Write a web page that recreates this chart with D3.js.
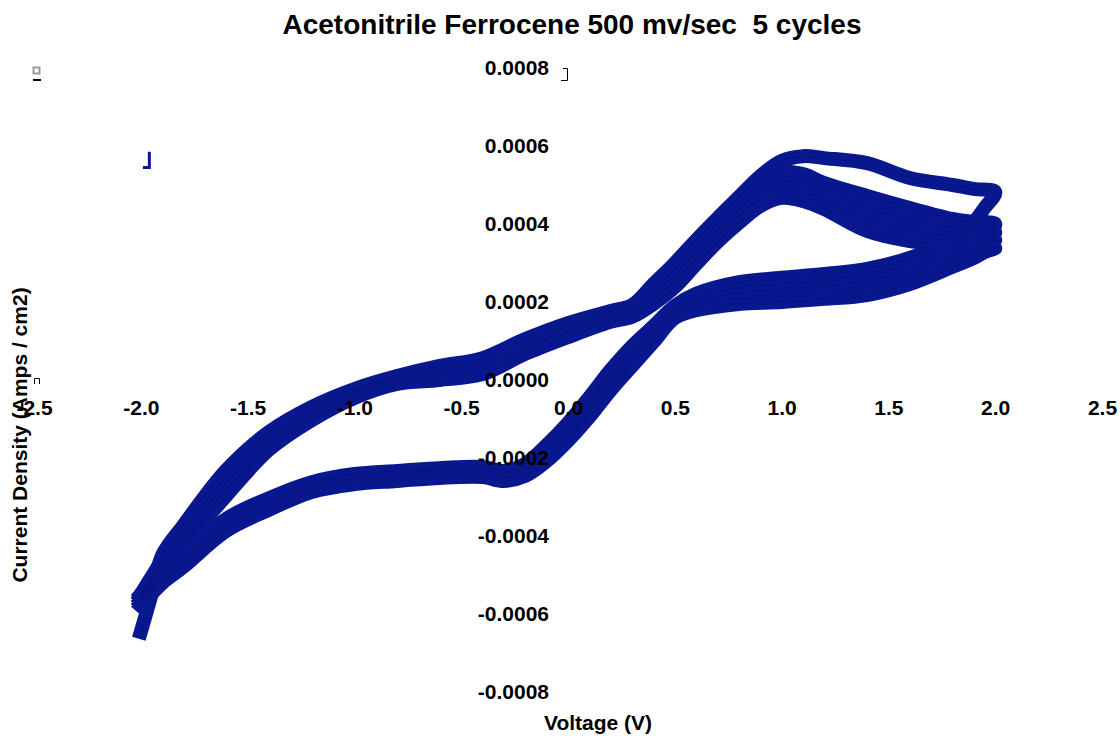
<!DOCTYPE html>
<html>
<head>
    <meta http-equiv="Content-Type" content="text/html;charset=utf8" />
    <title>Acetonitrile Ferrocene CV</title>
    <script src="https://d3js.org/d3.v7.min.js"></script>
    <style>
        body { margin: 0; background: #fff; font-family: "Liberation Sans", Arial, sans-serif; }
        text { font-weight: bold; fill: #000; }
    </style>
</head>
<body>
<div id="chart"></div>
<script>
    // scan voltage (V): forward -2 -> 2, then reverse 2 -> -2
    var voltage = [
        -2.0, -1.95, -1.9, -1.8, -1.6, -1.4, -1.2, -1.0, -0.8, -0.6, -0.4, -0.2, 0.0, 0.2, 0.3, 0.4, 0.5, 0.6, 0.7, 0.8, 0.9, 1.0, 1.1, 1.2, 1.4, 1.6, 1.8, 1.9, 2.0,
        1.95, 1.9, 1.8, 1.6, 1.4, 1.2, 1.0, 0.8, 0.6, 0.5, 0.4, 0.3, 0.2, 0.1, 0.0, -0.1, -0.2, -0.3, -0.4, -0.6, -0.8, -1.0, -1.2, -1.4, -1.6, -1.8, -1.9, -2.0
    ];

    // current density per cycle, in units of 1e-4 A/cm2
    var cycle1 = [
        -6.46, -5.51, -4.49, -3.72, -2.31, -1.33, -0.69, -0.23, 0.10, 0.36, 0.56, 1.05, 1.46, 1.77, 1.92, 2.46, 3.00, 3.59, 4.15, 4.69, 5.23, 5.62, 5.74, 5.69, 5.56, 5.18, 5.00, 4.90, 4.82,
        4.41, 4.05, 3.59, 3.13, 2.85, 2.72, 2.62, 2.51, 2.21, 1.90, 1.38, 0.87, 0.26, -0.44, -1.10, -1.67, -2.15, -2.33, -2.23, -2.26, -2.33, -2.41, -2.62, -3.03, -3.56, -4.49, -4.90, -5.49
    ];
    var cycle2 = [
        -5.49, -5.05, -4.62, -3.87, -2.49, -1.46, -0.77, -0.28, 0.05, 0.26, 0.46, 0.95, 1.38, 1.69, 1.85, 2.33, 2.85, 3.44, 4.00, 4.54, 5.03, 5.33, 5.28, 5.05, 4.72, 4.41, 4.13, 4.05, 4.00,
        3.69, 3.46, 3.21, 2.97, 2.69, 2.56, 2.46, 2.38, 2.10, 1.82, 1.28, 0.74, 0.13, -0.56, -1.23, -1.77, -2.23, -2.38, -2.31, -2.31, -2.38, -2.46, -2.67, -3.10, -3.64, -4.56, -4.97, -5.56
    ];
    var cycle3 = [
        -5.56, -5.15, -4.74, -4.00, -2.64, -1.56, -0.85, -0.33, 0.00, 0.18, 0.36, 0.85, 1.28, 1.62, 1.77, 2.21, 2.69, 3.28, 3.85, 4.36, 4.85, 5.10, 5.05, 4.85, 4.41, 4.13, 3.90, 3.82, 3.79,
        3.56, 3.36, 3.10, 2.82, 2.54, 2.41, 2.31, 2.23, 2.00, 1.74, 1.18, 0.62, 0.00, -0.69, -1.33, -1.87, -2.31, -2.46, -2.36, -2.38, -2.46, -2.54, -2.74, -3.18, -3.72, -4.64, -5.05, -5.64
    ];
    var cycle4 = [
        -5.64, -5.26, -4.87, -4.13, -2.82, -1.69, -0.95, -0.41, -0.05, 0.08, 0.26, 0.77, 1.21, 1.56, 1.69, 2.08, 2.54, 3.13, 3.69, 4.21, 4.64, 4.87, 4.82, 4.62, 4.13, 3.85, 3.67, 3.59, 3.59,
        3.44, 3.26, 3.00, 2.64, 2.36, 2.26, 2.15, 2.10, 1.90, 1.67, 1.08, 0.49, -0.13, -0.82, -1.46, -1.97, -2.38, -2.51, -2.44, -2.44, -2.51, -2.59, -2.79, -3.26, -3.79, -4.72, -5.13, -5.72
    ];
    var cycle5 = [
        -5.72, -5.36, -5.00, -4.26, -2.97, -1.79, -1.03, -0.46, -0.10, 0.00, 0.15, 0.67, 1.10, 1.49, 1.62, 1.95, 2.38, 2.97, 3.54, 4.03, 4.46, 4.67, 4.59, 4.38, 3.82, 3.56, 3.44, 3.38, 3.38,
        3.28, 3.13, 2.90, 2.46, 2.18, 2.08, 2.00, 1.95, 1.79, 1.59, 0.97, 0.36, -0.26, -0.95, -1.56, -2.08, -2.46, -2.59, -2.49, -2.51, -2.59, -2.67, -2.87, -3.33, -3.87, -4.79, -5.21, -5.79
    ];

    // stray point trace near the top left (1e-4 A/cm2)
    var strayV = [-1.96, -1.96, -1.99];
    var strayI = [5.85, 5.45, 5.45];

    var xTicks = [-2.5, -2.0, -1.5, -1.0, -0.5, 0.0, 0.5, 1.0, 1.5, 2.0, 2.5];
    var xTickLabels = ["-2.5", "-2.0", "-1.5", "-1.0", "-0.5", "0.0", "0.5", "1.0", "1.5", "2.0", "2.5"];
    var yTicks = [0.0008, 0.0006, 0.0004, 0.0002, 0, -0.0002, -0.0004, -0.0006, -0.0008];
    var yTickLabels = ["0.0008", "0.0006", "0.0004", "0.0002", "0.0000", "-0.0002", "-0.0004", "-0.0006", "-0.0008"];

    var W = 1120, H = 736;
    var svg = d3.select("#chart").append("svg").attr("width", W).attr("height", H);

    var x = d3.scaleLinear().domain([-2.5, 2.5]).range([34, 1102]);
    var y = d3.scaleLinear().domain([-0.0008, 0.0008]).range([692, 68]);

    var line = d3.line()
        .curve(d3.curveCatmullRom.alpha(0.5))
        .x(function(d) { return x(d[0]); })
        .y(function(d) { return y(d[1] * 1e-4); });

    var cycles = [cycle1, cycle2, cycle3, cycle4, cycle5];
    var series = cycles.map(function(c) {
        return voltage.map(function(v, i) { return [v, c[i]]; });
    });

    var plot = svg.append("g");

    plot.selectAll("path.band").data(series).enter()
        .append("path")
        .attr("class", "band")
        .attr("d", line)
        .attr("fill", "none")
        .attr("stroke", "#0a1890")
        .attr("stroke-width", 14)
        .attr("stroke-linejoin", "round")
        .attr("stroke-linecap", "square");

    plot.selectAll("path.core").data(series).enter()
        .append("path")
        .attr("class", "core")
        .attr("d", line)
        .attr("fill", "none")
        .attr("stroke", "#050f70")
        .attr("stroke-opacity", 0.5)
        .attr("stroke-width", 1);

    plot.append("path")
        .datum(strayV.map(function(v, i) { return [v, strayI[i]]; }))
        .attr("d", d3.line().x(function(d) { return x(d[0]); }).y(function(d) { return y(d[1] * 1e-4); }))
        .attr("fill", "none")
        .attr("stroke", "#0a1890")
        .attr("stroke-width", 3);

    // axes: labels only, no lines
    var xAxis = svg.append("g")
        .attr("transform", "translate(0," + y(0) + ")")
        .call(d3.axisBottom(x).tickValues(xTicks).tickSize(0).tickPadding(20)
            .tickFormat(function(d, i) { return xTickLabels[i]; }));
    var yAxis = svg.append("g")
        .attr("transform", "translate(" + x(0) + ",0)")
        .call(d3.axisLeft(y).tickValues(yTicks).tickSize(0).tickPadding(19)
            .tickFormat(function(d, i) { return yTickLabels[i]; }));
    [xAxis, yAxis].forEach(function(g) {
        g.select(".domain").remove();
        g.selectAll("text")
            .attr("font-family", "'Liberation Sans', Arial, sans-serif")
            .attr("font-size", 21)
            .attr("font-weight", "bold")
            .attr("fill", "#000");
    });

    // titles
    svg.append("text")
        .attr("x", 572).attr("y", 34)
        .attr("text-anchor", "middle")
        .attr("font-size", 28)
        .style("white-space", "pre")
        .text("Acetonitrile Ferrocene 500 mv/sec  5 cycles");

    svg.append("text")
        .attr("x", 598).attr("y", 730)
        .attr("text-anchor", "middle")
        .attr("font-size", 21)
        .text("Voltage (V)");

    svg.append("text")
        .attr("transform", "translate(27,435) rotate(-90)")
        .attr("text-anchor", "middle")
        .attr("font-size", 21)
        .text("Current Density (Amps / cm2)");

    // small leftover marks from the original sheet
    svg.append("rect").attr("x", 33.5).attr("y", 67.5).attr("width", 6).attr("height", 6)
        .attr("fill", "#fff").attr("stroke", "#999").attr("stroke-width", 2);
    svg.append("line").attr("x1", 33).attr("x2", 41).attr("y1", 80).attr("y2", 80)
        .attr("stroke", "#000").attr("stroke-width", 2);
    svg.append("path").attr("d", "M563,68.5H567.5V80.5H561")
        .attr("fill", "none").attr("stroke", "#000").attr("stroke-width", 1);
    svg.append("path").attr("d", "M34.5,384V378.5H39.5V384")
        .attr("fill", "none").attr("stroke", "#000").attr("stroke-width", 1);
</script>
</body>
</html>
